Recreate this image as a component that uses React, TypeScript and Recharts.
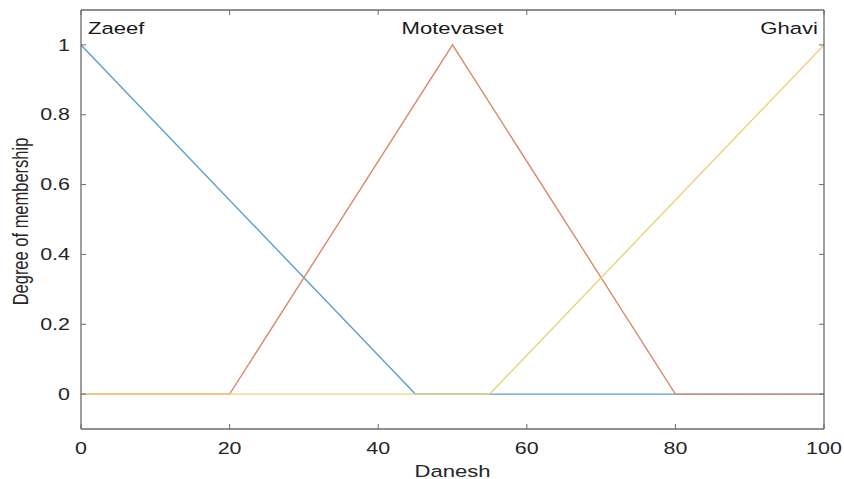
import { LineChart, Line, XAxis, YAxis, ReferenceDot } from 'recharts';

// membership functions for "Danesh"
const daneshTicks = [0, 20, 40, 60, 80, 100];
const membershipTicks = [0, 0.2, 0.4, 0.6, 0.8, 1];

const zaeefX = [0, 45, 100];
const zaeefY = [1, 0, 0];
const motevasetX = [0, 20, 50, 80, 100];
const motevasetY = [0, 0, 1, 0, 0];
const ghaviX = [0, 55, 100];
const ghaviY = [0, 0, 1];

const mfNames = ['Zaeef', 'Motevaset', 'Ghavi'];
const mfPeaks = [0, 50, 100];

const toPoints = (xs: number[], ys: number[]) => xs.map((x, i) => ({ x, y: ys[i] }));

const zaeef = toPoints(zaeefX, zaeefY);
const motevaset = toPoints(motevasetX, motevasetY);
const ghavi = toPoints(ghaviX, ghaviY);

const FONT = '"Liberation Sans", Arial, Helvetica, sans-serif';
const AXIS = '#6b6b6b';
const TEXT = '#262626';
const TICK = 5;
const STRETCH = 1.3;

const fmt = (v: number) => String(Math.round(v * 10) / 10);

const LeftTick = ({ x, y, payload }: any) => (
  <g>
    <line x1={x} x2={x + TICK} y1={y} y2={y} stroke={AXIS} strokeWidth={1} />
    <text
      transform={`translate(${x - 11},${y}) scale(${STRETCH},1)`}
      textAnchor="end"
      dominantBaseline="central"
      fontFamily={FONT}
      fontSize={16.5}
      fill={TEXT}
    >
      {fmt(payload.value)}
    </text>
  </g>
);

const RightTick = ({ x, y }: any) => (
  <line x1={x} x2={x - TICK} y1={y} y2={y} stroke={AXIS} strokeWidth={1} />
);

const BottomTick = ({ x, y, payload }: any) => (
  <g>
    <line x1={x} x2={x} y1={y} y2={y - TICK} stroke={AXIS} strokeWidth={1} />
    <text
      transform={`translate(${x},${y + 25}) scale(${STRETCH},1)`}
      textAnchor="middle"
      fontFamily={FONT}
      fontSize={16.5}
      fill={TEXT}
    >
      {payload.value}
    </text>
  </g>
);

const TopTick = ({ x, y }: any) => (
  <line x1={x} x2={x} y1={y} y2={y + TICK} stroke={AXIS} strokeWidth={1} />
);

const XLabel = ({ viewBox }: any) => (
  <text
    transform={`translate(${viewBox.x + viewBox.width / 2},${viewBox.y + 48}) scale(${STRETCH},1)`}
    textAnchor="middle"
    fontFamily={FONT}
    fontSize={17}
    fill={TEXT}
  >
    Danesh
  </text>
);

const YLabel = ({ viewBox }: any) => (
  <text
    transform={`translate(28,${viewBox.y + viewBox.height / 2 + 2}) scale(${STRETCH},1) rotate(-90)`}
    textAnchor="middle"
    fontFamily={FONT}
    fontSize={16.5}
    fill={TEXT}
  >
    Degree of membership
  </text>
);

const anchors = ['start', 'middle', 'end'];
const shifts = [7, 0, -6];

export default function App() {
  return (
    <div style={{ position: 'absolute', left: 0, top: 0, background: '#fff' }}>
      <LineChart width={844} height={479} margin={{ top: 0, right: 0, left: 0, bottom: 0 }}>
        <XAxis
          dataKey="x"
          type="number"
          domain={[0, 100]}
          ticks={daneshTicks}
          height={50}
          axisLine={{ stroke: AXIS, strokeWidth: 1.3 }}
          tickLine={false}
          tickSize={0}
          tickMargin={0}
          tick={<BottomTick />}
          label={<XLabel />}
        />
        <XAxis
          xAxisId="top"
          dataKey="x"
          orientation="top"
          type="number"
          domain={[0, 100]}
          ticks={daneshTicks}
          height={10}
          axisLine={{ stroke: AXIS, strokeWidth: 1.3 }}
          tickLine={false}
          tickSize={0}
          tickMargin={0}
          tick={<TopTick />}
        />
        <YAxis
          type="number"
          domain={[-0.1, 1.1]}
          ticks={membershipTicks}
          width={81}
          axisLine={{ stroke: AXIS, strokeWidth: 1.3 }}
          tickLine={false}
          tickSize={0}
          tickMargin={0}
          tick={<LeftTick />}
          label={<YLabel />}
          allowDataOverflow
        />
        <YAxis
          yAxisId="right"
          orientation="right"
          type="number"
          domain={[-0.1, 1.1]}
          ticks={membershipTicks}
          width={20}
          axisLine={{ stroke: AXIS, strokeWidth: 1.3 }}
          tickLine={false}
          tickSize={0}
          tickMargin={0}
          tick={<RightTick />}
          allowDataOverflow
        />
        {/* invisible series so the mirrored box axes get drawn */}
        <Line
          data={zaeef}
          dataKey="y"
          xAxisId="top"
          yAxisId="right"
          stroke="none"
          dot={false}
          legendType="none"
          isAnimationActive={false}
        />
        <Line data={zaeef} dataKey="y" type="linear" stroke="#5a9fd0" strokeWidth={1.4} dot={false} isAnimationActive={false} />
        <Line data={motevaset} dataKey="y" type="linear" stroke="#d98a68" strokeWidth={1.4} dot={false} isAnimationActive={false} />
        <Line data={ghavi} dataKey="y" type="linear" stroke="#ecd277" strokeWidth={1.4} dot={false} isAnimationActive={false} />
        {mfNames.map((name, i) => (
          <ReferenceDot
            key={name}
            x={mfPeaks[i]}
            y={1}
            r={0}
            ifOverflow="visible"
            shape={(p: any) => (
              <text
                transform={`translate(${p.cx + shifts[i]},${p.cy - 11}) scale(${STRETCH},1)`}
                textAnchor={anchors[i]}
                fontFamily={FONT}
                fontSize={17}
                fill="#1a1a1a"
              >
                {name}
              </text>
            )}
          />
        ))}
      </LineChart>
    </div>
  );
}
